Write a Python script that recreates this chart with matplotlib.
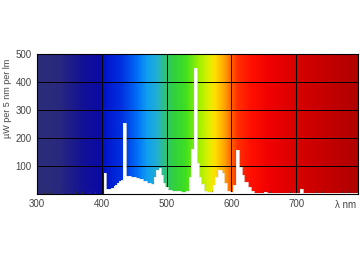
import matplotlib.pyplot as plt
import numpy as np
from matplotlib.colors import LinearSegmentedColormap
from matplotlib.ticker import MultipleLocator

plt.rcParams['font.family'] = ['Liberation Sans', 'DejaVu Sans']

# spectrum (step edges in nm, value from that edge on)
wavelength = [300, 403, 407, 414, 418, 421, 424, 427, 430, 433, 437, 445, 452,
              458, 464, 470, 476, 480, 484, 488, 492, 495, 498, 502, 508, 522,
              530, 535, 538, 542, 547, 550, 553, 557, 562, 572, 575, 579, 586,
              589, 593, 597, 603, 607, 612, 616, 620, 625, 630, 635, 650, 655,
              665, 680, 705, 710, 795]
power = [0, 75, 18, 22, 27, 32, 38, 45, 50, 254, 64, 62, 56,
         52, 46, 40, 36, 60, 85, 94, 68, 40, 25, 15, 10, 7,
         9, 60, 160, 450, 110, 60, 35, 12, 5, 30, 62, 86, 75,
         40, 12, 5, 30, 158, 97, 68, 43, 25, 10, 3, 5, 3,
         4, 3, 17, 3, 3]

x_ticks = [300, 400, 500, 600, 700]
y_ticks = [100, 200, 300, 400, 500]

# background colour band
band_wl = [300, 335, 370, 399, 400, 430, 455, 470, 485, 497, 510, 530, 550,
           565, 575, 590, 600, 610, 630, 660, 700, 795]
band_col = ['#2c2e78', '#28287f', '#121296', '#0a0aa6', '#0010c8', '#0030e0',
            '#0070f8', '#10a0f0', '#20b0d0', '#30c080', '#30d040', '#40e020',
            '#a0f000', '#e0f000', '#ffe000', '#ffa000', '#ff6000', '#ff3000',
            '#ff1000', '#f00000', '#d80000', '#b00000']

x0, x1 = 300, 795
pos = [(w - x0) / (x1 - x0) for w in band_wl]
cmap = LinearSegmentedColormap.from_list('band', list(zip(pos, band_col)), N=512)

fig = plt.figure(figsize=(3.6, 2.62), dpi=100)
ax = fig.add_axes([0.103, 0.26, 0.891, 0.534])

grad = np.linspace(0, 1, 500).reshape(1, -1)
ax.imshow(grad, cmap=cmap, extent=[x0, x1, 0, 500], aspect='auto', zorder=0)

for x in x_ticks[1:]:
    ax.axvline(x, color='black', lw=0.7, zorder=1)
for y in y_ticks[:-1]:
    ax.axhline(y, color='black', lw=0.7, zorder=1)

ax.fill_between(wavelength, 0, power, step='post', color='white', lw=0, zorder=2)
ax.step(wavelength, power, where='post', color='#e8e8e8', lw=0.5, zorder=2)

ax.set_xlim(x0, x1)
ax.set_ylim(0, 500)
ax.set_xticks(x_ticks)
ax.set_yticks(y_ticks)
ax.xaxis.set_minor_locator(MultipleLocator(10))
ax.tick_params(axis='both', which='major', length=0, labelsize=7, colors='#444444', pad=4)
ax.tick_params(axis='x', which='minor', direction='in', length=2, color='#333333')
ax.text(793, -40, 'λ nm', ha='right', va='center', fontsize=7, color='#444444')
fig.text(0.022, 0.625, 'µW per 5 nm per lm', rotation=90, ha='center', va='center',
         fontsize=6.5, color='#444444')

for s in ax.spines.values():
    s.set_color('black')
    s.set_linewidth(0.8)

fig.savefig('out.png', dpi=100)
